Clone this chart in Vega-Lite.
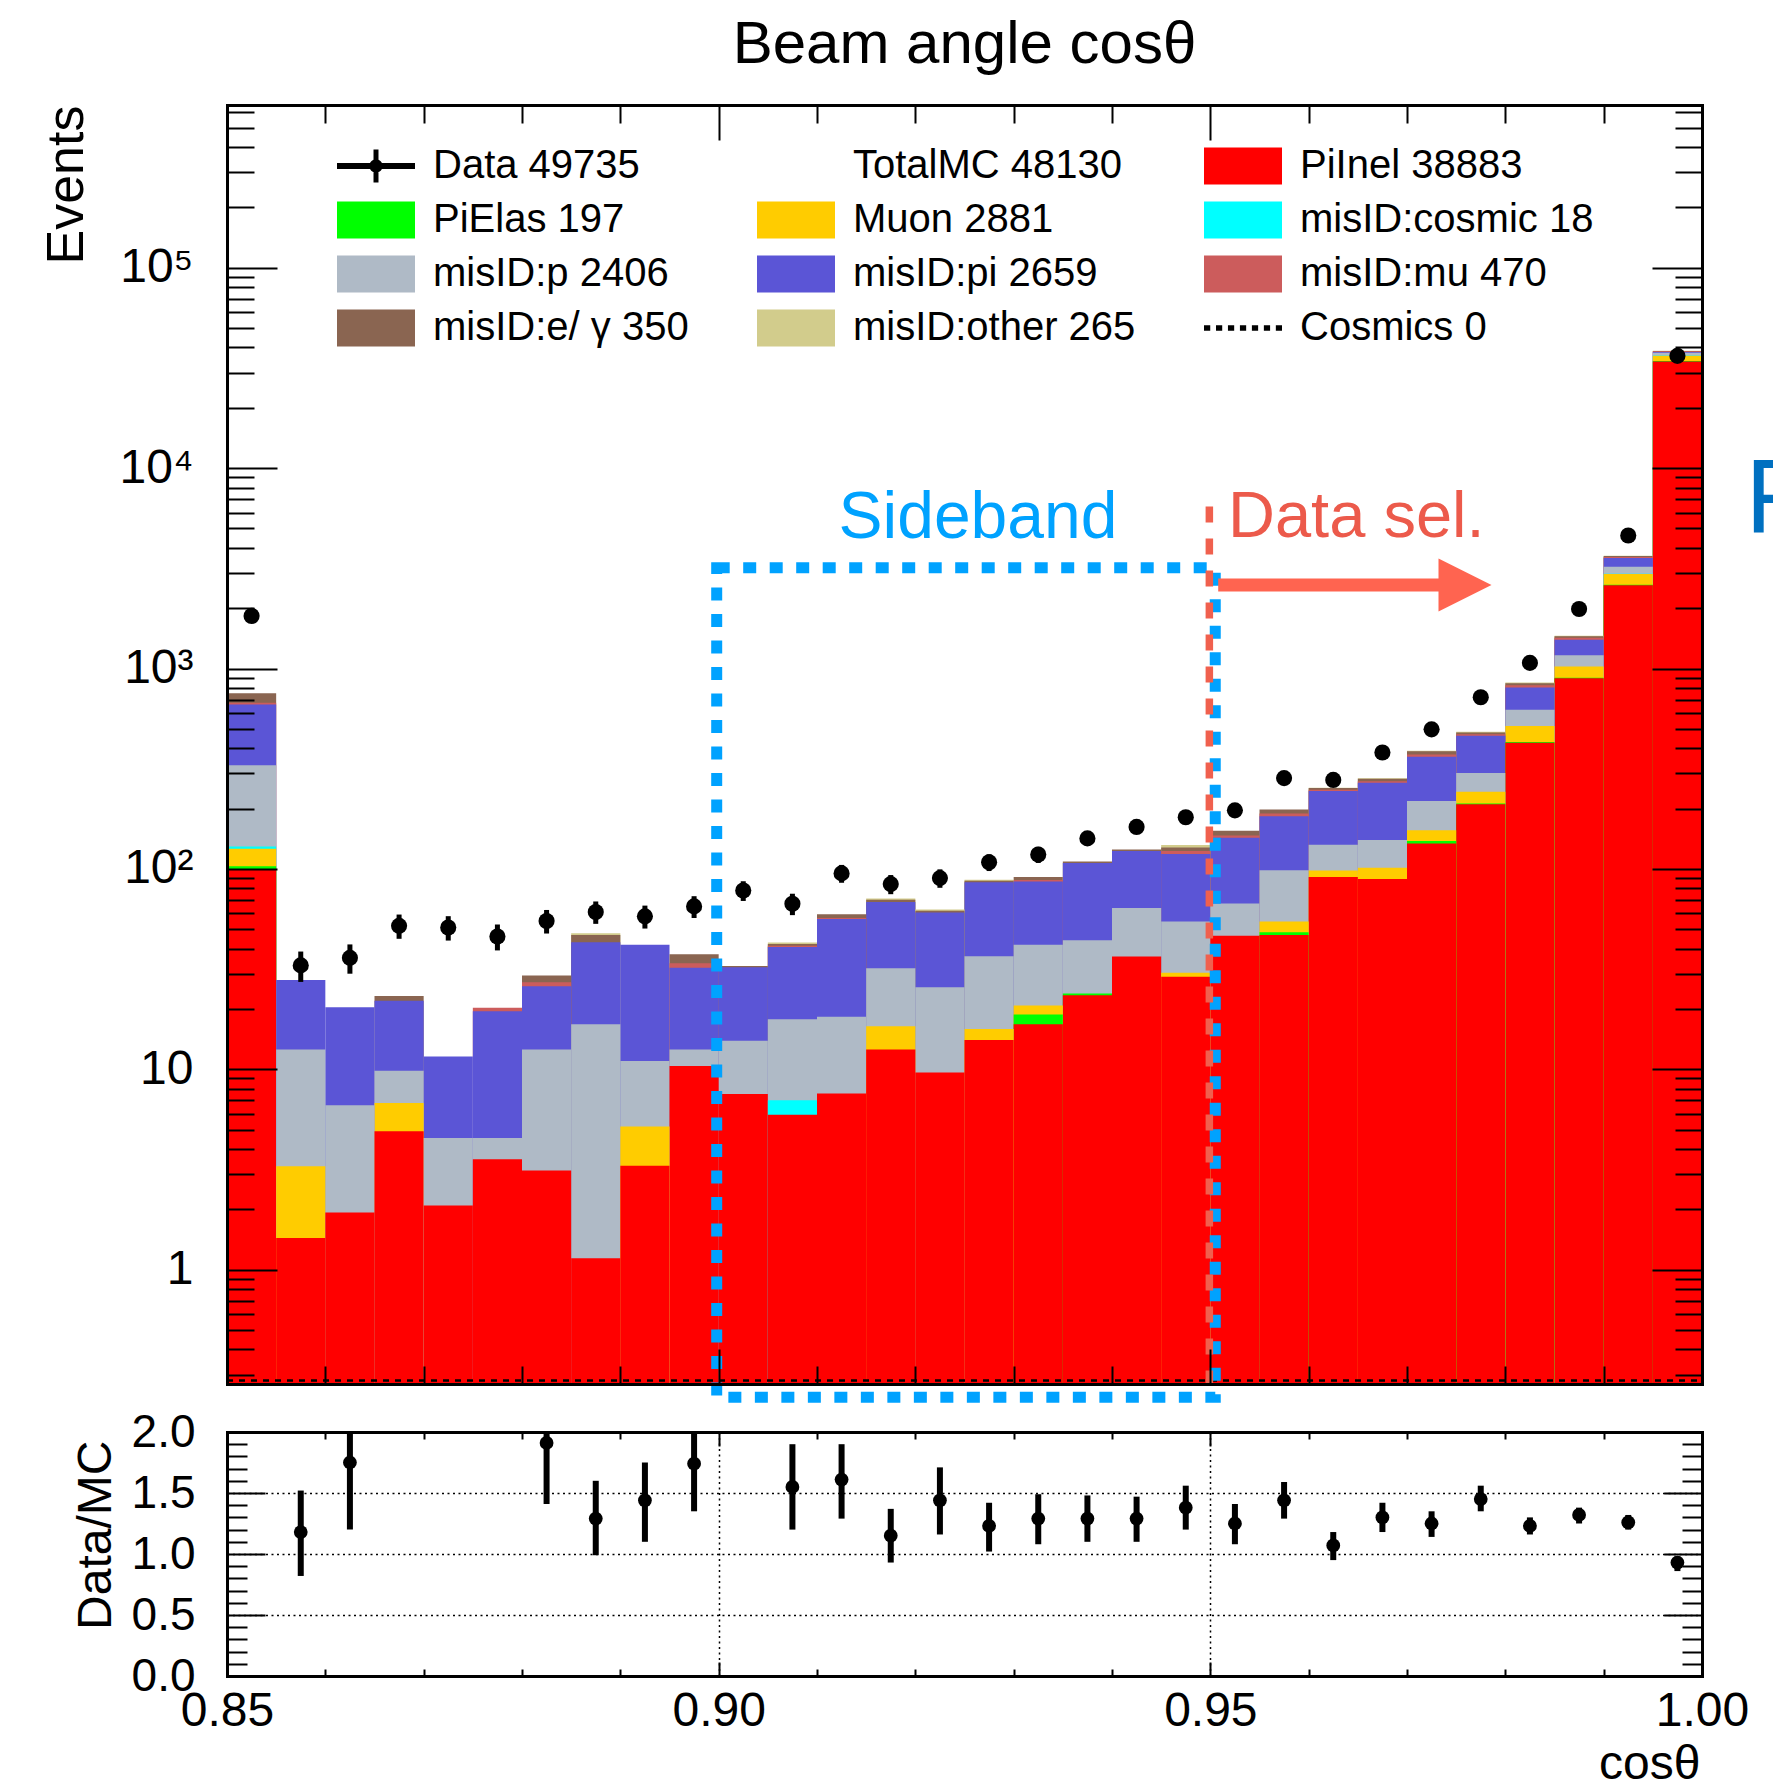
{
  "$schema": "https://vega.github.io/schema/vega-lite/v6.json",
  "background": "white",
  "padding": {"left": 39, "top": 14, "right": 0, "bottom": 0},
  "bounds": "flush",
  "spacing": 48,
  "config": {
    "font": "Liberation Sans",
    "view": {"stroke": null},
    "axis": {
      "domainColor": "black", "domainWidth": 3, "domainCap": "square",
      "tickColor": "black", "tickWidth": 2,
      "labelColor": "black", "labelFont": "Liberation Sans", "labelFlush": false, "labelOverlap": false, "labelBound": false,
      "titleColor": "black", "titleFont": "Liberation Sans", "titleFontWeight": "normal",
      "grid": false
    }
  },
  "datasets": {
    "mc": [
      {"b":0.85,"e":0.855,"PiInel":100,"PiElas":3,"Muon":23,"misID:cosmic":3.5,"misID:p":200,"misID:pi":332,"misID:mu":14,"misID:e/ γ":77,"misID:other":0},
      {"b":0.855,"e":0.86,"PiInel":1.44,"PiElas":0,"Muon":1.84,"misID:cosmic":0,"misID:p":9.27,"misID:pi":15.35,"misID:mu":0,"misID:e/ γ":0,"misID:other":0},
      {"b":0.86,"e":0.865,"PiInel":1.93,"PiElas":0,"Muon":0,"misID:cosmic":0,"misID:p":4.69,"misID:pi":13.78,"misID:mu":0,"misID:e/ γ":0,"misID:other":0},
      {"b":0.865,"e":0.87,"PiInel":4.91,"PiElas":0,"Muon":1.88,"misID:cosmic":0,"misID:p":3.06,"misID:pi":12.15,"misID:mu":0,"misID:e/ γ":1.2,"misID:other":0},
      {"b":0.87,"e":0.875,"PiInel":2.09,"PiElas":0,"Muon":0,"misID:cosmic":0,"misID:p":2.45,"misID:pi":7.06,"misID:mu":0,"misID:e/ γ":0,"misID:other":0},
      {"b":0.875,"e":0.88,"PiInel":3.56,"PiElas":0,"Muon":0,"misID:cosmic":0,"misID:p":0.98,"misID:pi":14.96,"misID:mu":0.8,"misID:e/ γ":0,"misID:other":0},
      {"b":0.88,"e":0.885,"PiInel":3.13,"PiElas":0,"Muon":0,"misID:cosmic":0,"misID:p":9.42,"misID:pi":13.45,"misID:mu":1.2,"misID:e/ γ":2.2,"misID:other":0},
      {"b":0.885,"e":0.89,"PiInel":1.14,"PiElas":0,"Muon":0,"misID:cosmic":0,"misID:p":15.66,"misID:pi":26.3,"misID:mu":0,"misID:e/ γ":3.7,"misID:other":1},
      {"b":0.89,"e":0.895,"PiInel":3.3,"PiElas":0,"Muon":1.89,"misID:cosmic":0,"misID:p":5.81,"misID:pi":30.8,"misID:mu":0,"misID:e/ γ":0,"misID:other":0},
      {"b":0.895,"e":0.9,"PiInel":10.4,"PiElas":0,"Muon":0,"misID:cosmic":0,"misID:p":2.15,"misID:pi":19.55,"misID:mu":1.7,"misID:e/ γ":3.7,"misID:other":0},
      {"b":0.9,"e":0.905,"PiInel":7.53,"PiElas":0,"Muon":0,"misID:cosmic":0,"misID:p":6.37,"misID:pi":18.4,"misID:mu":0,"misID:e/ γ":0.5,"misID:other":0},
      {"b":0.905,"e":0.91,"PiInel":5.94,"PiElas":0,"Muon":0,"misID:cosmic":1.06,"misID:p":10.8,"misID:pi":23,"misID:mu":0.6,"misID:e/ γ":0.8,"misID:other":0.7},
      {"b":0.91,"e":0.915,"PiInel":7.57,"PiElas":0,"Muon":0,"misID:cosmic":0,"misID:p":10.73,"misID:pi":38,"misID:mu":0.6,"misID:e/ γ":2.5,"misID:other":0},
      {"b":0.915,"e":0.92,"PiInel":12.55,"PiElas":0,"Muon":3.85,"misID:cosmic":0,"misID:p":15.5,"misID:pi":36.4,"misID:mu":0,"misID:e/ γ":1.8,"misID:other":1},
      {"b":0.92,"e":0.925,"PiInel":9.64,"PiElas":0,"Muon":0,"misID:cosmic":0,"misID:p":16.06,"misID:pi":34.9,"misID:mu":0,"misID:e/ γ":1.2,"misID:other":1},
      {"b":0.925,"e":0.93,"PiInel":14,"PiElas":0,"Muon":1.9,"misID:cosmic":0,"misID:p":20.8,"misID:pi":49,"misID:mu":0,"misID:e/ γ":1.6,"misID:other":1},
      {"b":0.93,"e":0.935,"PiInel":16.8,"PiElas":2,"Muon":2,"misID:cosmic":0,"misID:p":21,"misID:pi":44.7,"misID:mu":1.5,"misID:e/ γ":3.1,"misID:other":0},
      {"b":0.935,"e":0.94,"PiInel":23.4,"PiElas":0.5,"Muon":0,"misID:cosmic":0,"misID:p":20.1,"misID:pi":63,"misID:mu":0,"misID:e/ γ":2,"misID:other":0},
      {"b":0.94,"e":0.945,"PiInel":36.6,"PiElas":0,"Muon":0,"misID:cosmic":0,"misID:p":27.2,"misID:pi":59.2,"misID:mu":0,"misID:e/ γ":2,"misID:other":0},
      {"b":0.945,"e":0.95,"PiInel":29,"PiElas":0,"Muon":1.3,"misID:cosmic":0,"misID:p":24.4,"misID:pi":63.9,"misID:mu":4.4,"misID:e/ γ":5,"misID:other":3.5},
      {"b":0.95,"e":0.955,"PiInel":46.4,"PiElas":0,"Muon":0,"misID:cosmic":0,"misID:p":20.8,"misID:pi":75.8,"misID:mu":4,"misID:e/ γ":8,"misID:other":0},
      {"b":0.955,"e":0.96,"PiInel":46.8,"PiElas":1.5,"Muon":6.4,"misID:cosmic":0,"misID:p":43.8,"misID:pi":84.5,"misID:mu":6,"misID:e/ γ":9,"misID:other":0},
      {"b":0.96,"e":0.965,"PiInel":91.1,"PiElas":0,"Muon":7,"misID:cosmic":0,"misID:p":34,"misID:pi":113,"misID:mu":3,"misID:e/ γ":5,"misID:other":1},
      {"b":0.965,"e":0.97,"PiInel":89,"PiElas":0,"Muon":12.5,"misID:cosmic":0,"misID:p":38,"misID:pi":130,"misID:mu":4,"misID:e/ γ":8,"misID:other":2},
      {"b":0.97,"e":0.975,"PiInel":134,"PiElas":4,"Muon":18,"misID:cosmic":0,"misID:p":62,"misID:pi":145,"misID:mu":9,"misID:e/ γ":14,"misID:other":3},
      {"b":0.975,"e":0.98,"PiInel":210,"PiElas":2,"Muon":31,"misID:cosmic":0,"misID:p":58,"misID:pi":161,"misID:mu":8,"misID:e/ γ":10,"misID:other":4},
      {"b":0.98,"e":0.985,"PiInel":426,"PiElas":4,"Muon":87,"misID:cosmic":0,"misID:p":105,"misID:pi":183,"misID:mu":19,"misID:e/ γ":20,"misID:other":7},
      {"b":0.985,"e":0.99,"PiInel":893,"PiElas":6,"Muon":125,"misID:cosmic":0,"misID:p":140,"misID:pi":226,"misID:mu":35,"misID:e/ γ":25,"misID:other":9},
      {"b":0.99,"e":0.995,"PiInel":2607,"PiElas":13,"Muon":345,"misID:cosmic":2,"misID:p":250,"misID:pi":340,"misID:mu":45,"misID:e/ γ":40,"misID:other":14},
      {"b":0.995,"e":1.0,"PiInel":34045,"PiElas":161,"Muon":2211,"misID:cosmic":11.4,"misID:p":1228,"misID:pi":285,"misID:mu":312,"misID:e/ γ":103,"misID:other":217}
    ],
    "data": [
      {"xc":0.8525,"n":1830,"lo":1787,"hi":1873},
      {"xc":0.8575,"n":33,"lo":27.3,"hi":38.7},
      {"xc":0.8625,"n":36,"lo":30,"hi":42},
      {"xc":0.8675,"n":52,"lo":44.8,"hi":59.2},
      {"xc":0.8725,"n":51,"lo":43.9,"hi":58.1},
      {"xc":0.8775,"n":46,"lo":39.2,"hi":52.8},
      {"xc":0.8825,"n":55,"lo":47.6,"hi":62.4},
      {"xc":0.8875,"n":61,"lo":53.2,"hi":68.8},
      {"xc":0.8925,"n":58,"lo":50.4,"hi":65.6},
      {"xc":0.8975,"n":65,"lo":56.9,"hi":73.1},
      {"xc":0.9025,"n":78,"lo":69.2,"hi":86.8},
      {"xc":0.9075,"n":67,"lo":58.8,"hi":75.2},
      {"xc":0.9125,"n":95,"lo":85.3,"hi":104.7},
      {"xc":0.9175,"n":84,"lo":74.8,"hi":93.2},
      {"xc":0.9225,"n":90,"lo":80.5,"hi":99.5},
      {"xc":0.9275,"n":108,"lo":97.6,"hi":118.4},
      {"xc":0.9325,"n":118,"lo":107.1,"hi":128.9},
      {"xc":0.9375,"n":142,"lo":130.1,"hi":153.9},
      {"xc":0.9425,"n":162,"lo":149.3,"hi":174.7},
      {"xc":0.9475,"n":181,"lo":167.5,"hi":194.5},
      {"xc":0.9525,"n":196,"lo":182,"hi":210},
      {"xc":0.9575,"n":284,"lo":267.1,"hi":300.9},
      {"xc":0.9625,"n":278,"lo":261.3,"hi":294.7},
      {"xc":0.9675,"n":381,"lo":361.5,"hi":400.5},
      {"xc":0.9725,"n":497,"lo":474.7,"hi":519.3},
      {"xc":0.9775,"n":719,"lo":692.2,"hi":745.8},
      {"xc":0.9825,"n":1067,"lo":1034.3,"hi":1099.7},
      {"xc":0.9875,"n":1982,"lo":1937.5,"hi":2026.5},
      {"xc":0.9925,"n":4613,"lo":4545.1,"hi":4680.9},
      {"xc":0.9975,"n":36306,"lo":36115,"hi":36497}
    ],
    "ratio": [
      {"xc":0.8575,"r":1.18,"lo":0.82,"hi":1.52},
      {"xc":0.8625,"r":1.75,"lo":1.2,"hi":2.31},
      {"xc":0.8825,"r":1.91,"lo":1.41,"hi":2.41},
      {"xc":0.8875,"r":1.29,"lo":0.99,"hi":1.6},
      {"xc":0.8925,"r":1.44,"lo":1.1,"hi":1.75},
      {"xc":0.8975,"r":1.74,"lo":1.35,"hi":2.13},
      {"xc":0.9075,"r":1.55,"lo":1.2,"hi":1.9},
      {"xc":0.9125,"r":1.61,"lo":1.29,"hi":1.9},
      {"xc":0.9175,"r":1.15,"lo":0.93,"hi":1.37},
      {"xc":0.9225,"r":1.44,"lo":1.16,"hi":1.71},
      {"xc":0.9275,"r":1.23,"lo":1.02,"hi":1.42},
      {"xc":0.9325,"r":1.29,"lo":1.08,"hi":1.49},
      {"xc":0.9375,"r":1.29,"lo":1.1,"hi":1.48},
      {"xc":0.9425,"r":1.29,"lo":1.1,"hi":1.47},
      {"xc":0.9475,"r":1.38,"lo":1.2,"hi":1.56},
      {"xc":0.9525,"r":1.25,"lo":1.08,"hi":1.41},
      {"xc":0.9575,"r":1.44,"lo":1.29,"hi":1.59},
      {"xc":0.9625,"r":1.07,"lo":0.95,"hi":1.18},
      {"xc":0.9675,"r":1.3,"lo":1.18,"hi":1.42},
      {"xc":0.9725,"r":1.25,"lo":1.14,"hi":1.35},
      {"xc":0.9775,"r":1.45,"lo":1.35,"hi":1.56},
      {"xc":0.9825,"r":1.23,"lo":1.16,"hi":1.3},
      {"xc":0.9875,"r":1.32,"lo":1.25,"hi":1.38},
      {"xc":0.9925,"r":1.26,"lo":1.2,"hi":1.32},
      {"xc":0.9975,"r":0.93,"lo":0.86,"hi":0.98}
    ]
  },
  "vconcat": [
    {
      "width": 1475,
      "height": 1279,
      "title": {"text": "Beam angle cosθ", "fontSize": 60, "fontWeight": "normal", "color": "black", "anchor": "middle", "frame": "group", "baseline": "alphabetic", "offset": -35},
      "resolve": {"axis": {"x": "independent", "y": "independent"}},
      "layer": [
        {
          "data": {"name": "mc"},
          "transform": [
            {"fold": ["PiInel", "PiElas", "Muon", "misID:cosmic", "misID:p", "misID:pi", "misID:mu", "misID:e/ γ", "misID:other"], "as": ["c", "n"]},
            {"filter": "datum.n > 0"},
            {"stack": "n", "groupby": ["b"], "as": ["lo", "hi"]}
          ],
          "mark": {"type": "bar", "orient": "vertical"},
          "encoding": {
            "x": {"field": "b", "type": "quantitative", "scale": {"domain": [0.85, 1.0], "nice": false, "zero": false, "padding": 0}, "axis": null},
            "x2": {"field": "e"},
            "y": {"field": "hi", "type": "quantitative", "stack": null, "scale": {"type": "log", "domain": [0.269, 648600], "nice": false, "padding": 0}, "axis": null},
            "order": {"field": "hi", "sort": "descending"},
            "color": {
              "field": "c", "type": "nominal",
              "scale": {
                "domain": ["Data", "TotalMC", "PiInel", "PiElas", "Muon", "misID:cosmic", "misID:p", "misID:pi", "misID:mu", "misID:e/ γ", "misID:other", "Cosmics"],
                "range": ["#000000", "rgba(0,0,0,0)", "#FF0000", "#00FF00", "#FFCC00", "#00FFFF", "#AFBAC6", "#5B55D6", "#CC5C5C", "#8A6551", "#D2CC8C", "#000000"]
              },
              "legend": {
                "orient": "none", "legendX": 110, "legendY": 41,
                "direction": "horizontal", "columns": 3, "columnPadding": 68, "rowPadding": 14,
                "clipHeight": 40,
                "title": null, "padding": 0,
                "labelFont": "Liberation Sans", "labelFontSize": 40, "labelColor": "black", "labelOffset": 18, "labelLimit": 0,
                "symbolSize": 6084, "symbolStrokeWidth": 0, "symbolOpacity": 1,
                "symbolType": "M-1,-0.474H1V0.474H-1Z",
                "labelExpr": "datum.label == 'Data' ? 'Data 49735' : datum.label == 'TotalMC' ? 'TotalMC 48130' : datum.label == 'PiInel' ? 'PiInel 38883' : datum.label == 'PiElas' ? 'PiElas 197' : datum.label == 'Muon' ? 'Muon 2881' : datum.label == 'misID:cosmic' ? 'misID:cosmic 18' : datum.label == 'misID:p' ? 'misID:p 2406' : datum.label == 'misID:pi' ? 'misID:pi 2659' : datum.label == 'misID:mu' ? 'misID:mu 470' : datum.label == 'misID:other' ? 'misID:other 265' : datum.label == 'Cosmics' ? 'Cosmics 0' : 'misID:e/ γ 350'",
                "encode": {
                  "symbols": {
                    "update": {
                      "shape": {"signal": "datum.value == 'Data' ? 'M-1,-0.077H1V0.077H-1Z M-0.064,-0.42H0.064V0.42H-0.064Z M0.17,0A0.17,0.17 0 1,1 -0.17,0A0.17,0.17 0 1,1 0.17,0Z' : datum.value == 'Cosmics' ? 'M-1,-0.07H-0.84V0.07H-1Z M-0.693,-0.07H-0.533V0.07H-0.693Z M-0.386,-0.07H-0.226V0.07H-0.386Z M-0.079,-0.07H0.081V0.07H-0.079Z M0.228,-0.07H0.388V0.07H0.228Z M0.535,-0.07H0.695V0.07H0.535Z M0.842,-0.07H1V0.07H0.842Z' : 'M-1,-0.474H1V0.474H-1Z'"}
                    }
                  }
                }
              }
            }
          }
        },
        {
          "data": {"values": [{}]},
          "mark": {"type": "rule", "color": "black", "strokeWidth": 2.5, "strokeDash": [6, 6], "clip": false},
          "encoding": {
            "x": {"datum": 0.85, "type": "quantitative", "axis": null},
            "x2": {"datum": 1.0},
            "y": {"datum": 0.28, "type": "quantitative", "axis": null}
          }
        },
        {
          "data": {"name": "data"},
          "mark": {"type": "rule", "color": "black", "strokeWidth": 5},
          "encoding": {
            "x": {"field": "xc", "type": "quantitative", "axis": {
              "orient": "bottom", "values": [0.86, 0.87, 0.88, 0.89, 0.9, 0.91, 0.92, 0.93, 0.94, 0.95, 0.96, 0.97, 0.98, 0.99],
              "labels": false, "title": null, "zindex": 1,
              "tickSize": {"expr": "abs(datum.value*20 - round(datum.value*20)) < 0.001 ? -35 : -18"}
            }},
            "y": {"field": "lo", "type": "quantitative", "axis": {
              "orient": "left",
              "values": [0.3, 0.4, 0.5, 0.6, 0.7, 0.8, 0.9, 1, 2, 3, 4, 5, 6, 7, 8, 9, 10, 20, 30, 40, 50, 60, 70, 80, 90, 100, 200, 300, 400, 500, 600, 700, 800, 900, 1000, 2000, 3000, 4000, 5000, 6000, 7000, 8000, 9000, 10000, 20000, 30000, 40000, 50000, 60000, 70000, 80000, 90000, 100000, 200000, 300000, 400000, 500000, 600000],
              "labelExpr": "datum.value == 1 ? '1' : datum.value == 10 ? '10' : datum.value == 100 ? '10²' : datum.value == 1000 ? '10³' : datum.value == 10000 ? '10⁴' : datum.value == 100000 ? '10⁵' : ''",
              "labelFontSize": 48, "labelPadding": 84,
              "title": "Events", "titleFontSize": 52, "titleAngle": -90, "titleAlign": "right", "titleBaseline": "alphabetic", "titleX": -145, "titleY": 0,
              "zindex": 1,
              "tickSize": {"expr": "abs(log(datum.value)/LN10 - round(log(datum.value)/LN10)) < 0.001 ? -50 : -27"}
            }},
            "y2": {"field": "hi"}
          }
        },
        {
          "data": {"name": "data"},
          "mark": {"type": "point", "shape": "circle", "filled": true, "size": 260, "color": "black", "opacity": 1},
          "encoding": {
            "x": {"field": "xc", "type": "quantitative", "axis": {
              "orient": "top", "values": [0.86, 0.87, 0.88, 0.89, 0.9, 0.91, 0.92, 0.93, 0.94, 0.95, 0.96, 0.97, 0.98, 0.99],
              "labels": false, "title": null, "zindex": 1,
              "tickSize": {"expr": "abs(datum.value*20 - round(datum.value*20)) < 0.001 ? -35 : -18"}
            }},
            "y": {"field": "n", "type": "quantitative", "axis": {
              "orient": "right",
              "values": [0.3, 0.4, 0.5, 0.6, 0.7, 0.8, 0.9, 1, 2, 3, 4, 5, 6, 7, 8, 9, 10, 20, 30, 40, 50, 60, 70, 80, 90, 100, 200, 300, 400, 500, 600, 700, 800, 900, 1000, 2000, 3000, 4000, 5000, 6000, 7000, 8000, 9000, 10000, 20000, 30000, 40000, 50000, 60000, 70000, 80000, 90000, 100000, 200000, 300000, 400000, 500000, 600000],
              "labels": false, "title": null, "zindex": 1,
              "tickSize": {"expr": "abs(log(datum.value)/LN10 - round(log(datum.value)/LN10)) < 0.001 ? -50 : -27"}
            }}
          }
        },
        {
          "data": {"values": [{}]},
          "mark": {"type": "rect", "filled": false, "stroke": "#00A2FF", "strokeWidth": 11, "strokeDash": [13, 13.5], "clip": false},
          "encoding": {
            "x": {"datum": 0.8998, "type": "quantitative", "axis": null},
            "x2": {"datum": 0.9505},
            "y": {"datum": 3185, "type": "quantitative", "axis": null},
            "y2": {"datum": 0.231}
          }
        },
        {
          "data": {"values": [{}]},
          "mark": {"type": "rule", "color": "#F0604E", "strokeWidth": 7.5, "strokeDash": [16, 16], "clip": false},
          "encoding": {
            "x": {"datum": 0.9499, "type": "quantitative", "axis": null},
            "y": {"datum": 6430, "type": "quantitative", "axis": null},
            "y2": {"datum": 0.269}
          }
        },
        {
          "data": {"values": [{}]},
          "mark": {"type": "rule", "color": "#FF6450", "strokeWidth": 13, "clip": false},
          "encoding": {
            "x": {"datum": 0.9508, "type": "quantitative", "axis": null},
            "x2": {"datum": 0.9737},
            "y": {"datum": 2610, "type": "quantitative", "axis": null}
          }
        },
        {
          "data": {"values": [{}]},
          "mark": {"type": "point", "shape": "M-1,-1L1,0L-1,1Z", "filled": true, "size": 2809, "color": "#FF6450", "opacity": 1, "strokeWidth": 0, "clip": false},
          "encoding": {
            "x": {"datum": 0.9759, "type": "quantitative", "axis": null},
            "y": {"datum": 2610, "type": "quantitative", "axis": null}
          }
        },
        {
          "data": {"values": [{}]},
          "mark": {"type": "text", "text": "Sideband", "fontSize": 66, "color": "#00A2FF", "align": "center", "baseline": "alphabetic", "clip": false},
          "encoding": {
            "x": {"datum": 0.92637, "type": "quantitative", "axis": null},
            "y": {"datum": 4478, "type": "quantitative", "axis": null}
          }
        },
        {
          "data": {"values": [{}]},
          "mark": {"type": "text", "text": "Data sel.", "fontSize": 65, "color": "#EC5A4B", "align": "left", "baseline": "alphabetic", "clip": false},
          "encoding": {
            "x": {"datum": 0.9518, "type": "quantitative", "axis": null},
            "y": {"datum": 4529, "type": "quantitative", "axis": null}
          }
        },
        {
          "data": {"values": [{}]},
          "mark": {"type": "text", "text": "F", "fontSize": 105, "color": "#0070C0", "align": "left", "baseline": "alphabetic", "clip": false},
          "encoding": {
            "x": {"datum": 1.0044, "type": "quantitative", "axis": null},
            "y": {"datum": 4743, "type": "quantitative", "axis": null}
          }
        }
      ]
    },
    {
      "width": 1475,
      "height": 244,
      "data": {"name": "ratio"},
      "resolve": {"axis": {"x": "independent", "y": "independent"}},
      "layer": [
        {
          "mark": {"type": "rule", "color": "black", "strokeWidth": 6, "clip": true},
          "encoding": {
            "x": {"field": "xc", "type": "quantitative", "scale": {"domain": [0.85, 1.0], "nice": false, "zero": false, "padding": 0}, "axis": {
              "orient": "bottom", "values": [0.85, 0.86, 0.87, 0.88, 0.89, 0.9, 0.91, 0.92, 0.93, 0.94, 0.95, 0.96, 0.97, 0.98, 0.99, 1.0],
              "labelExpr": "abs(datum.value*20 - round(datum.value*20)) < 0.001 ? format(datum.value, '.2f') : ''",
              "labelFontSize": 48, "labelPadding": 63, "labelBaseline": "alphabetic",
              "grid": true, "gridColor": "black", "gridDash": [2, 3.5], "gridWidth": 1.5,
              "gridOpacity": {"condition": {"test": "abs(datum.value*20 - round(datum.value*20)) < 0.001 && datum.value > 0.86 && datum.value < 0.99", "value": 1}, "value": 0},
              "title": "cosθ", "titleFontSize": 48, "titleAngle": 0, "titleAlign": "right", "titleBaseline": "alphabetic", "titleX": 1473, "titleY": 102,
              "zindex": 1,
              "tickSize": {"expr": "abs(datum.value*20 - round(datum.value*20)) < 0.001 ? -14 : -7"}
            }},
            "y": {"field": "lo", "type": "quantitative", "scale": {"domain": [0, 2], "nice": false, "padding": 0}, "axis": {
              "orient": "left",
              "values": [0, 0.1, 0.2, 0.3, 0.4, 0.5, 0.6, 0.7, 0.8, 0.9, 1, 1.1, 1.2, 1.3, 1.4, 1.5, 1.6, 1.7, 1.8, 1.9, 2],
              "labelExpr": "abs(datum.value*2 - round(datum.value*2)) < 0.001 ? format(datum.value, '.1f') : ''",
              "labelFontSize": 46, "labelPadding": 70,
              "grid": true, "gridColor": "black", "gridDash": [2, 3.5], "gridWidth": 1.5,
              "gridOpacity": {"condition": {"test": "abs(datum.value*2 - round(datum.value*2)) < 0.001 && datum.value > 0.05 && datum.value < 1.95", "value": 1}, "value": 0},
              "title": "Data/MC", "titleFontSize": 48, "titleAngle": -90, "titleAlign": "right", "titleBaseline": "alphabetic", "titleX": -117, "titleY": 8,
              "zindex": 1,
              "tickSize": {"expr": "abs(datum.value*2 - round(datum.value*2)) < 0.001 ? -38 : -20"}
            }},
            "y2": {"field": "hi"}
          }
        },
        {
          "mark": {"type": "point", "shape": "circle", "filled": true, "size": 190, "color": "black", "opacity": 1, "clip": true},
          "encoding": {
            "x": {"field": "xc", "type": "quantitative", "axis": {
              "orient": "top", "values": [0.86, 0.87, 0.88, 0.89, 0.9, 0.91, 0.92, 0.93, 0.94, 0.95, 0.96, 0.97, 0.98, 0.99],
              "labels": false, "title": null, "zindex": 1,
              "tickSize": {"expr": "abs(datum.value*20 - round(datum.value*20)) < 0.001 ? -14 : -7"}
            }},
            "y": {"field": "r", "type": "quantitative", "axis": {
              "orient": "right",
              "values": [0.1, 0.2, 0.3, 0.4, 0.5, 0.6, 0.7, 0.8, 0.9, 1, 1.1, 1.2, 1.3, 1.4, 1.5, 1.6, 1.7, 1.8, 1.9],
              "labels": false, "title": null, "zindex": 1,
              "tickSize": {"expr": "abs(datum.value*2 - round(datum.value*2)) < 0.001 ? -38 : -20"}
            }}
          }
        }
      ]
    }
  ]
}
